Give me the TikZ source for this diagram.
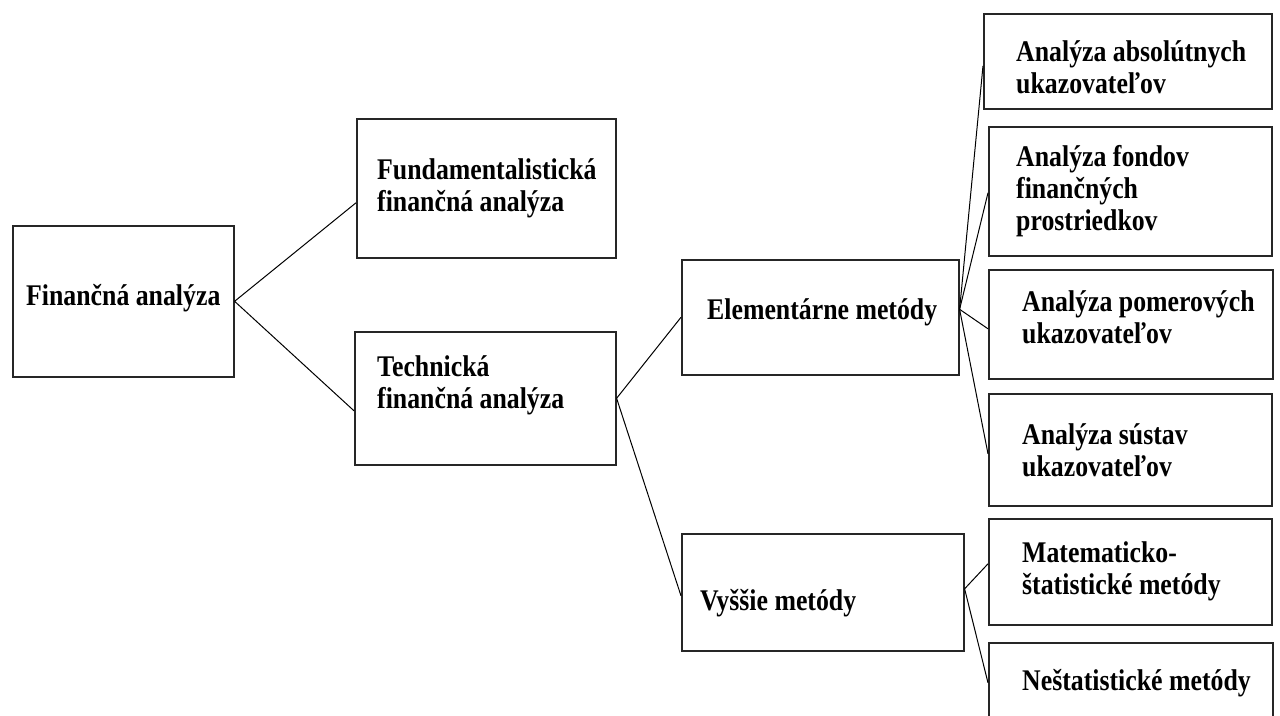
\documentclass[tikz,border=0pt]{standalone}
\usepackage{fontspec}
\setmainfont[FakeStretch=0.86]{Liberation Serif}
\usetikzlibrary{positioning}

\begin{document}
\begin{tikzpicture}[x=1pt,y=-1pt,
  box/.style={draw=black!85,line width=1.6pt,inner sep=0pt,anchor=north west},
  txt/.style={font=\bfseries\fontsize{30}{32}\selectfont,align=left,inner sep=0pt},
  link/.style={line width=1pt}]
\clip (0,0) rectangle (1280,715);
\fill[white] (0,0) rectangle (1280,715);

% boxes
\node[box,minimum width=221pt,minimum height=151pt] (fin) at (12,225) {};
\node[box,minimum width=259pt,minimum height=139pt] (fund) at (356,118) {};
\node[box,minimum width=261pt,minimum height=133pt] (tech) at (354,331) {};
\node[box,minimum width=277pt,minimum height=115pt] (elem) at (681,259) {};
\node[box,minimum width=282pt,minimum height=117pt] (vyss) at (681,533) {};
\node[box,minimum width=288pt,minimum height=95pt] (abs) at (983,13) {};
\node[box,minimum width=283pt,minimum height=129pt] (fond) at (988,126) {};
\node[box,minimum width=284pt,minimum height=109pt] (pom) at (988,269) {};
\node[box,minimum width=283pt,minimum height=112pt] (sust) at (988,393) {};
\node[box,minimum width=283pt,minimum height=106pt] (mat) at (988,518) {};
\node[box,minimum width=284pt,minimum height=80pt] (nest) at (988,642) {};

% texts
\node[txt,yshift=3pt] (fin-t) at (fin.center) {Finančná analýza};
\node[txt,right=21pt of fund.west] (fund-t) {Fundamentalistická\\finančná analýza};
\node[txt,right=23pt of tech.west,yshift=12.5pt] (tech-t) {Technická\\finančná analýza};
\node[txt,right=26pt of elem.west,yshift=4.5pt] (elem-t) {Elementárne metódy};
\node[txt,right=19pt of vyss.west,yshift=-10.5pt] (vyss-t) {Vyššie metódy};
\node[txt,right=33pt of abs.west,yshift=-5.5pt] (abs-t) {Analýza absolútnych\\ukazovateľov};
\node[txt,right=28pt of fond.west] (fond-t) {Analýza fondov\\finančných\\prostriedkov};
\node[txt,right=34pt of pom.west,yshift=7.5pt] (pom-t) {Analýza pomerových\\ukazovateľov};
\node[txt,right=34pt of sust.west] (sust-t) {Analýza sústav\\ukazovateľov};
\node[txt,right=34pt of mat.west] (mat-t) {Matematicko-\\štatistické metódy};
\node[txt,right=34pt of nest.west] (nest-t) {Neštatistické metódy};

% connectors
\draw[link] (fin.east) -- ([yshift=-14.5pt]fund.west);
\draw[link] (fin.east) -- ([yshift=-12.5pt]tech.west);
\draw[link] (tech.east) -- (elem.west);
\draw[link] (tech.east) -- ([yshift=-3.5pt]vyss.west);
\foreach \k/\s in {abs/-4.5,fond/-1.5,pom/-4.5,sust/-4}
  \draw[link] ([yshift=8pt]elem.east) -- ([yshift=\s pt]\k.west);
\draw[link] ([yshift=3.5pt]vyss.east) -- ([yshift=8pt]mat.west);
\draw[link] ([yshift=3.5pt]vyss.east) -- (nest.west);
\end{tikzpicture}
\end{document}
